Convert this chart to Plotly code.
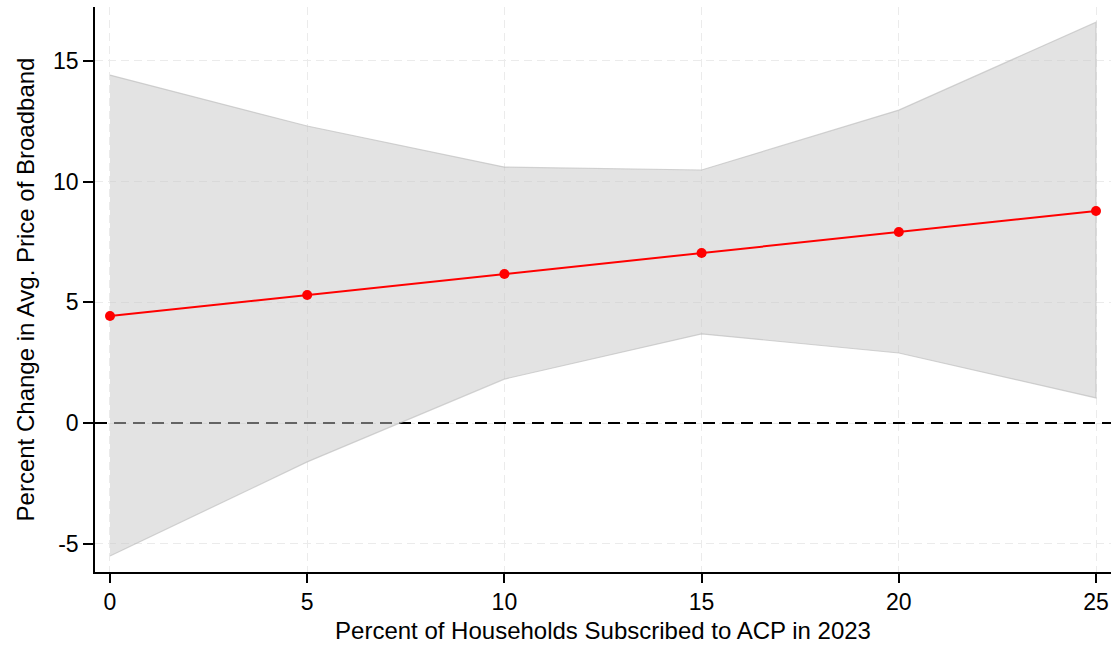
import plotly.graph_objects as go

x_vals = [0, 5, 10, 15, 20, 25]
estimate = [4.43, 5.30, 6.17, 7.04, 7.91, 8.78]
ci_upper = [14.41, 12.30, 10.60, 10.48, 12.96, 16.60]
ci_lower = [-5.51, -1.61, 1.82, 3.69, 2.90, 1.04]
x_ticks = [0, 5, 10, 15, 20, 25]
y_ticks = [-5, 0, 5, 10, 15]
x_range = [-0.38, 25.38]
y_range = [-6.17, 17.23]

FONT = "Liberation Sans, Arial, Helvetica, sans-serif"

fig = go.Figure()

# zero reference line (drawn first so the band tints it)
fig.add_trace(go.Scatter(
    x=x_range, y=[0, 0], mode="lines",
    line=dict(color="#000000", width=2, dash="12px,7px"),
    hoverinfo="skip", showlegend=False,
))

# confidence band (semi-transparent polygon)
fig.add_trace(go.Scatter(
    x=x_vals + x_vals[::-1],
    y=ci_upper + ci_lower[::-1],
    fill="toself",
    fillcolor="rgba(200,200,200,0.5)",
    line=dict(color="rgba(185,185,185,0.6)", width=1.2),
    mode="lines",
    hoverinfo="skip",
    showlegend=False,
))

# point estimates
fig.add_trace(go.Scatter(
    x=x_vals, y=estimate,
    mode="lines+markers",
    line=dict(color="#ff0000", width=2),
    marker=dict(color="#ff0000", size=10),
    showlegend=False,
))

fig.update_layout(
    width=1115, height=648,
    margin=dict(l=95, r=4, t=7, b=76),
    paper_bgcolor="white", plot_bgcolor="white",
    font=dict(family=FONT, color="#000000"),
    xaxis=dict(
        range=x_range, automargin=False,
        tickvals=x_ticks, ticktext=[str(v) for v in x_ticks],
        showgrid=True, gridcolor="#ebebeb", gridwidth=1.3, griddash="8px,5px",
        zeroline=False,
        showline=True, linecolor="#000000", linewidth=1.5,
        ticks="outside", ticklen=9, tickwidth=1.5, tickcolor="#000000",
        tickfont=dict(size=23, family=FONT),
        title=dict(text="Percent of Households Subscribed to ACP in 2023",
                   font=dict(size=24, family=FONT), standoff=8),
    ),
    yaxis=dict(
        range=y_range, automargin=False,
        tickvals=y_ticks, ticktext=[str(v) for v in y_ticks],
        showgrid=True, gridcolor="#ebebeb", gridwidth=1.3, griddash="8px,5px",
        zeroline=False,
        showline=True, linecolor="#000000", linewidth=1.5,
        ticks="outside", ticklen=10, tickwidth=1.5, tickcolor="#000000",
        tickfont=dict(size=23, family=FONT),
        title=dict(text="Percent Change in Avg. Price of Broadband",
                   font=dict(size=24, family=FONT), standoff=12),
    ),
)

fig.write_html(
    "out.html",
    config={"displayModeBar": False},
    post_script="document.body.style.margin='0';document.body.style.overflow='hidden';",
)
